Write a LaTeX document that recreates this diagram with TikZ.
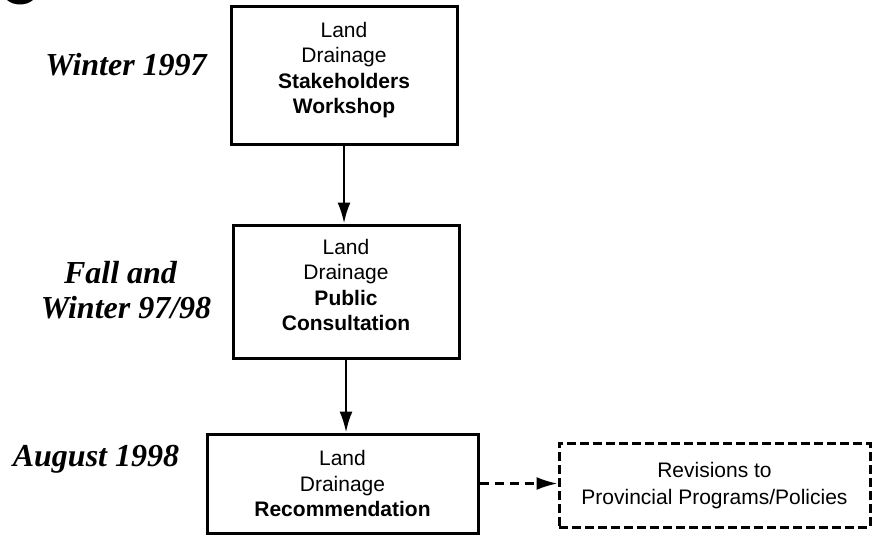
\documentclass[tikz,border=0pt]{standalone}
\usepackage{fontspec}
\setmainfont{Liberation Serif}
\newfontfamily\boxfont{Liberation Sans}
\usetikzlibrary{arrows.meta}
\begin{document}
\begin{tikzpicture}[x=1pt,y=-1pt,
  stagebox/.style={draw=black,line width=3pt,align=center,inner sep=0pt,
    font=\boxfont\fontsize{21}{25.5}\selectfont},
  dashbox/.style={stagebox,dash pattern=on 9pt off 4pt},
  period/.style={font=\fontsize{32}{35}\selectfont\bfseries\itshape,anchor=base,inner sep=0pt},
  flow/.style={line width=2.4pt,-{Latex[length=21pt,width=13pt]}},
  dflow/.style={flow,dash pattern=on 9pt off 6pt}]
\useasboundingbox (0,0) rectangle (875,535);
\begin{scope}
\clip (0,0) rectangle (875,535);
\fill[black] (20,-10) ellipse (18 and 14.5);
\end{scope}
\node[stagebox,minimum width=226pt,minimum height=137pt] (b1) at (344,75.5)
  {Land\\Drainage\\\textbf{Stakeholders}\\\textbf{Workshop}\\[-10pt]};
\node[stagebox,minimum width=226pt,minimum height=133pt] (b2) at (346,291.5)
  {Land\\Drainage\\\textbf{Public}\\\textbf{Consultation}\\[-12pt]};
\node[stagebox,minimum width=271pt,minimum height=99pt] (b3) at (342.5,483.5)
  {Land\\Drainage\\\textbf{Recommendation}};
\node[dashbox,minimum width=311pt,minimum height=84pt] (b4) at (714.5,485)
  {Revisions to\\[1.5pt]Provincial Programs/Policies\\[-22pt]};
\node[period] (p1) at (126,75) {Winter 1997};
\node[period] (p2a) at (120.5,283) {Fall and};
\node[period] (p2b) at (126,318) {Winter 97/98};
\node[period] (p3) at (96,466) {August 1998};
\draw[flow] (b1.south) -- (b1.south |- b2.north);
\draw[flow] (b2.south) -- (b2.south |- b3.north);
\draw[dflow] (b3.east) -- (b3.east -| b4.west);
\end{tikzpicture}
\end{document}
